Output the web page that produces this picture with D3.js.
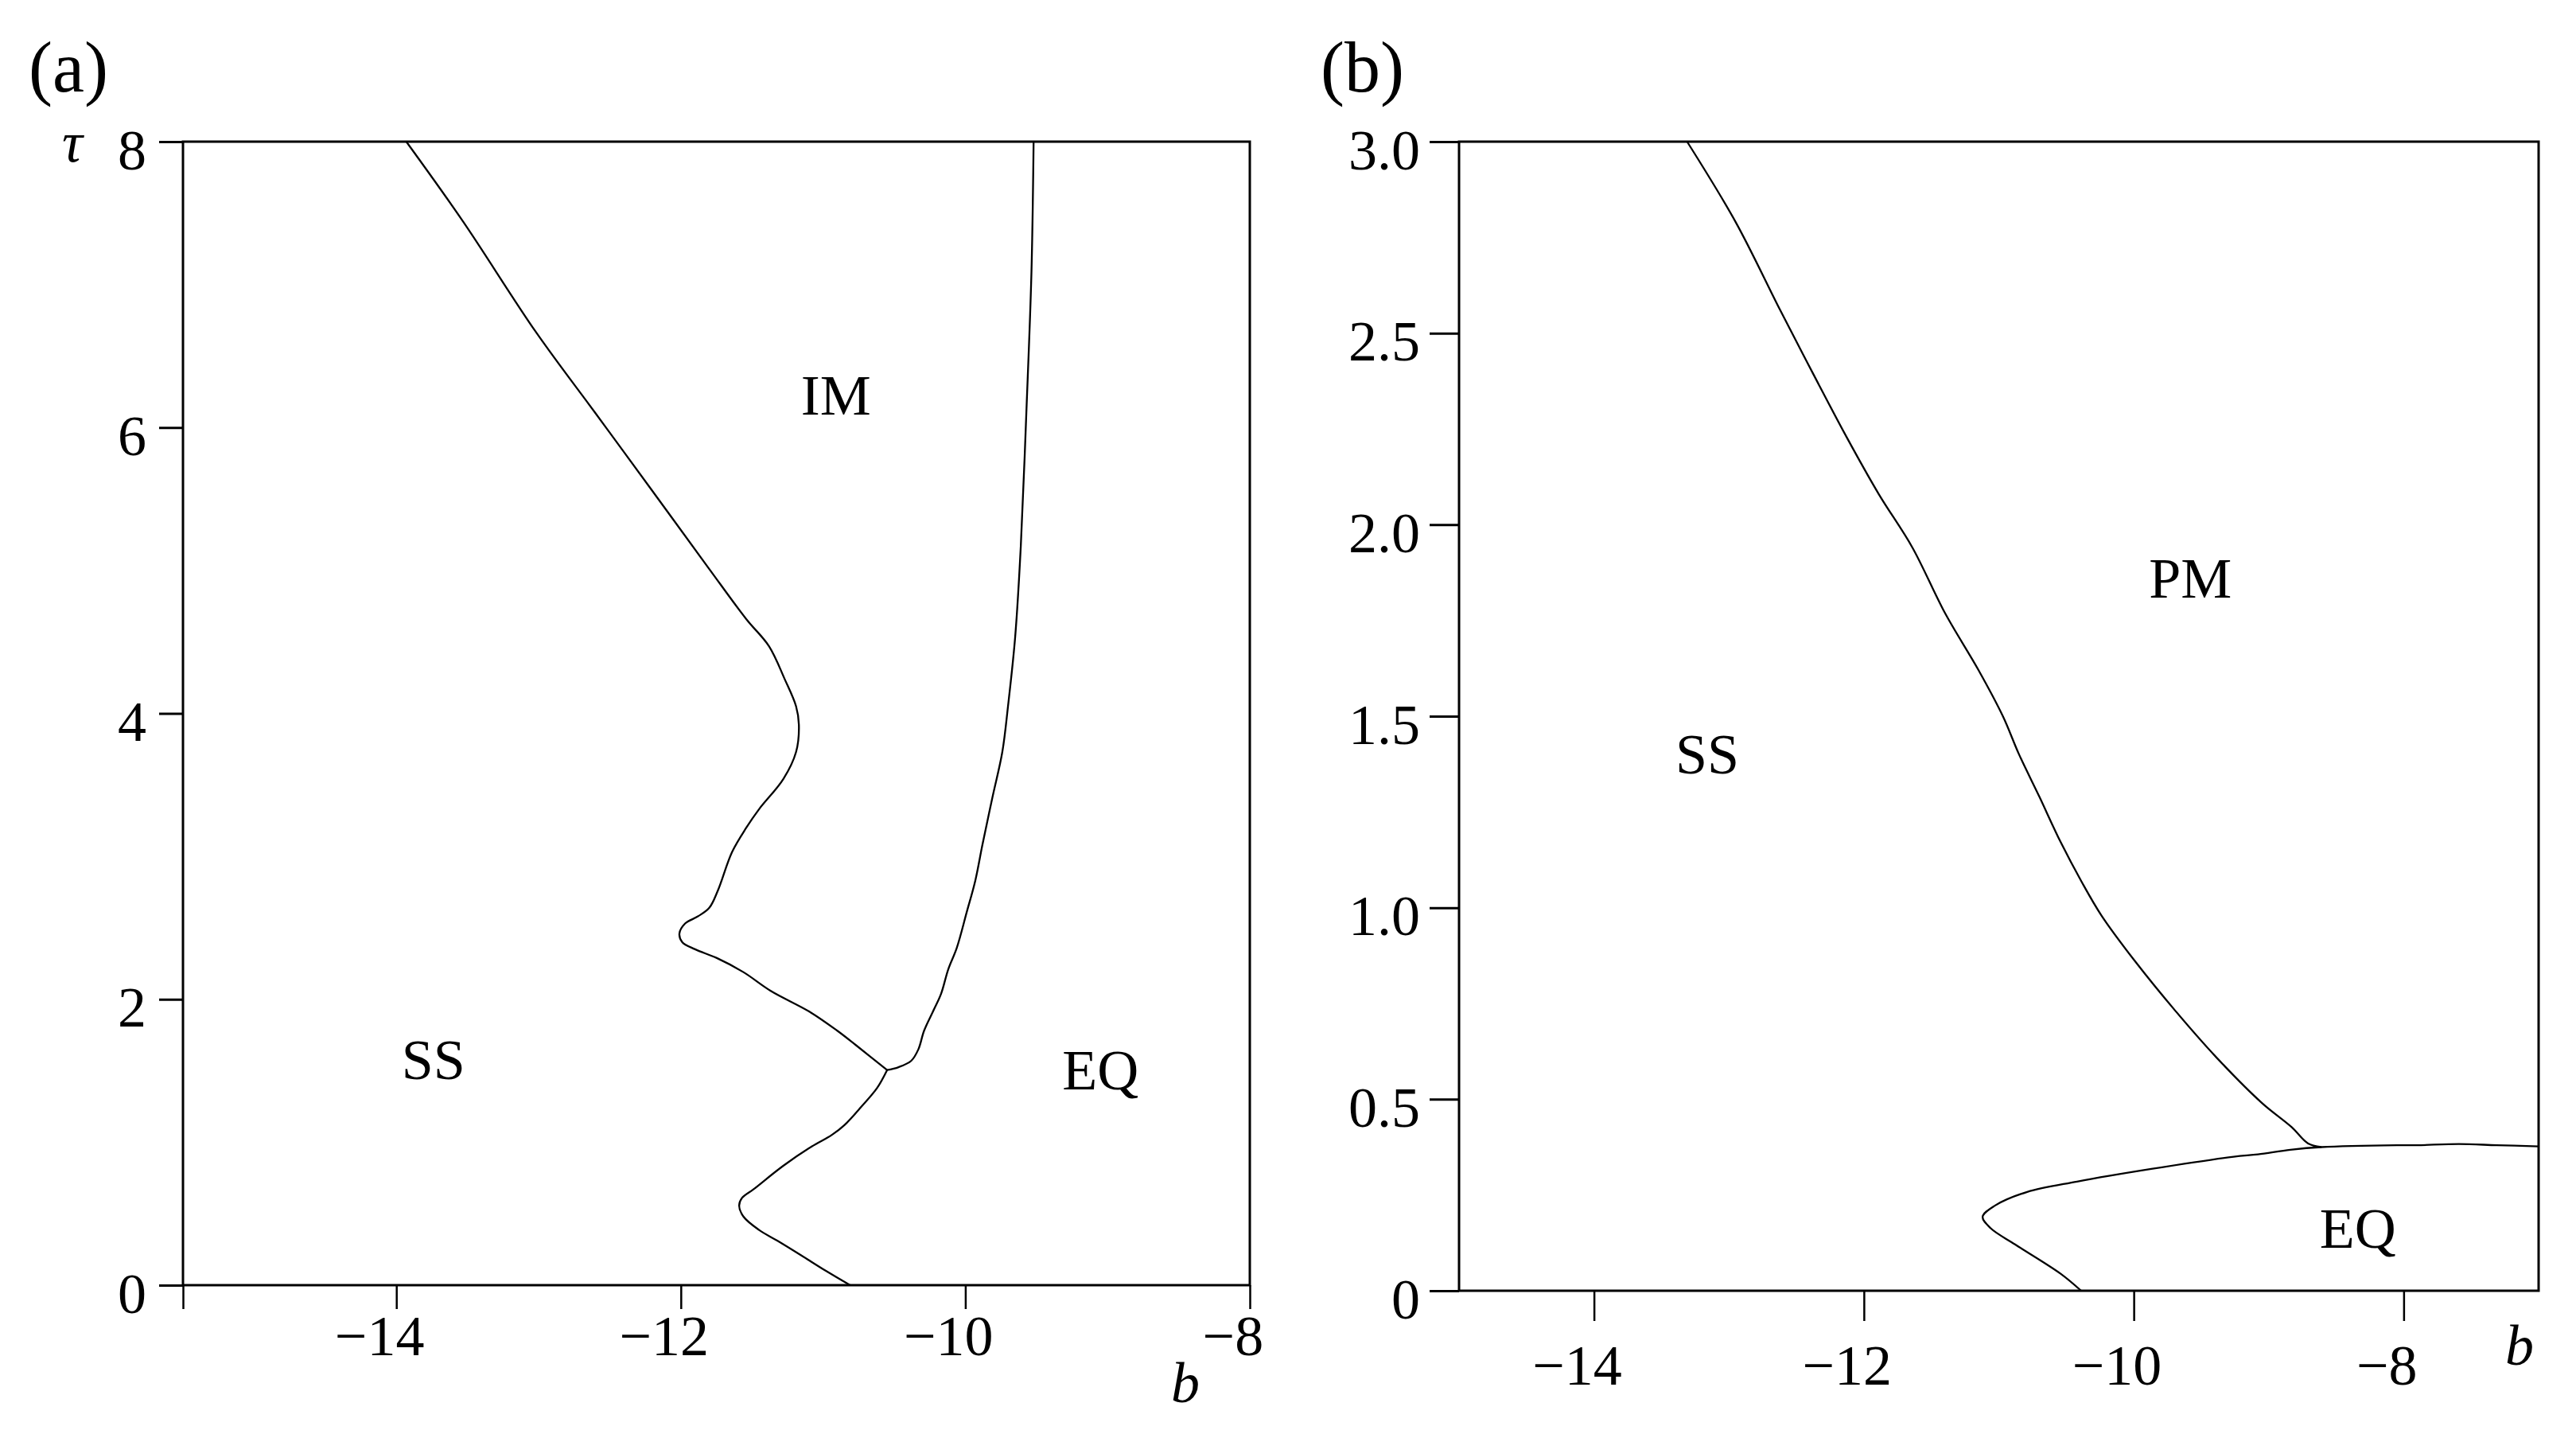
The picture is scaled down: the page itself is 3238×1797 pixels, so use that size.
<html>
<head>
<script src="https://d3js.org/d3.v7.min.js"></script>
<style>
  body {margin: 0; background: #fff;}
  text {font-family: "Liberation Serif", "Times New Roman", serif; fill: #000;}
</style>
</head>
<body>
<script>
// panel (a): boundaries as [b, tau]
var aSsIm = [[-13.93,8.0],[-13.53,7.44],[-13.02,6.67],[-12.60,6.10],[-12.21,5.57],[-11.80,5.01],
  [-11.54,4.66],[-11.38,4.47],[-11.27,4.24],[-11.19,4.05],[-11.17,3.92],[-11.19,3.73],[-11.28,3.54],
  [-11.45,3.33],[-11.54,3.20],[-11.64,3.03],[-11.74,2.76],[-11.80,2.64],[-11.88,2.58],[-11.97,2.53],
  [-12.01,2.46],[-11.99,2.40],[-11.90,2.35],[-11.75,2.29],[-11.56,2.19],[-11.37,2.06],[-11.09,1.91],
  [-10.90,1.78],[-10.77,1.68],[-10.55,1.505]]
var aSsEq = [[-10.55,1.505],[-10.62,1.38],[-10.73,1.25],[-10.85,1.12],[-10.94,1.05],[-11.08,0.97],
  [-11.28,0.835],[-11.49,0.67],[-11.57,0.61],[-11.59,0.557],[-11.56,0.48],[-11.45,0.386],[-11.32,0.31],
  [-11.15,0.206],[-10.98,0.10],[-10.81,0.0]]
var aImEq = [[-9.52,8.0],[-9.535,7.09],[-9.57,6.13],[-9.61,5.17],[-9.65,4.53],[-9.70,4.05],[-9.74,3.73],
  [-9.81,3.41],[-9.88,3.08],[-9.93,2.83],[-9.99,2.61],[-10.06,2.36],[-10.12,2.21],[-10.17,2.04],
  [-10.22,1.93],[-10.29,1.78],[-10.33,1.65],[-10.38,1.57],[-10.47,1.525],[-10.55,1.505]]

// panel (b)
var bSsPm = [[-13.31,3.0],[-12.95,2.79],[-12.62,2.56],[-12.37,2.39],[-12.13,2.23],[-11.89,2.08],
  [-11.64,1.94],[-11.40,1.77],[-11.15,1.62],[-10.97,1.50],[-10.85,1.40],[-10.70,1.29],[-10.54,1.17],
  [-10.39,1.07],[-10.24,0.98],[-9.99,0.86],[-9.69,0.73],[-9.39,0.61],[-9.05,0.49],[-8.83,0.427],
  [-8.71,0.385],[-8.61,0.375]]
var bEq = [[-7.0,0.377],[-7.31,0.38],[-7.59,0.383],[-7.90,0.38],[-8.05,0.380],[-8.61,0.375],
  [-8.84,0.368],[-9.08,0.356],[-9.26,0.35],[-9.87,0.318],[-10.42,0.285],[-10.79,0.258],[-11.03,0.222],
  [-11.12,0.193],[-11.06,0.163],[-10.88,0.121],[-10.54,0.044],[-10.39,0.0]]

var aXTicks = [-15.5, -14, -12, -10, -8]
var aYTicks = [0, 2, 4, 6, 8]
var bXTicks = [-14, -12, -10, -8]
var bYTicks = [0, 0.5, 1.0, 1.5, 2.0, 2.5, 3.0]

var aLabels = [{t:"IM", b:-10.91, tau:6.09}, {t:"SS", b:-13.74, tau:1.44}, {t:"EQ", b:-9.05, tau:1.37}]
var bLabels = [{t:"PM", b:-9.58, tau:1.81}, {t:"SS", b:-13.16, tau:1.35}, {t:"EQ", b:-8.34, tau:0.112}]

var W = 3238, H = 1797
var svg = d3.select("body").append("svg").attr("width", W).attr("height", H)
svg.append("rect").attr("width", W).attr("height", H).attr("fill", "#fff")

function minus(v) { return String(v).replace("-", "\u2212") }

function panel(o) {
  var x = d3.scaleLinear().domain(o.xDom).range([o.left, o.right])
  var y = d3.scaleLinear().domain(o.yDom).range([o.bottom, o.top])
  var g = svg.append("g")

  // y axis
  var ya = g.append("g").attr("transform", "translate(" + o.left + ",0)")
    .call(d3.axisLeft(y).tickValues(o.yTicks).tickSize(o.yTick).tickFormat(o.yFmt))
  ya.select(".domain").remove()
  ya.selectAll("line").attr("stroke", "#000").attr("stroke-width", 3)
  ya.selectAll("text").attr("x", -o.yLabGap).attr("dy", null).attr("y", 34)
    .style("font-size", "72px").style("font-family", "Liberation Serif")

  // x axis
  var xa = g.append("g").attr("transform", "translate(0," + o.bottom + ")")
    .call(d3.axisBottom(x).tickValues(o.xTicks).tickSize(o.xTick)
      .tickFormat(function(d) { return d === -15.5 ? "" : minus(d) }))
  xa.select(".domain").remove()
  xa.selectAll("line").attr("stroke", "#000").attr("stroke-width", 2.5)
  xa.selectAll("text").attr("dy", null).attr("y", o.xLabY).attr("dx", "-0.3em")
    .style("font-size", "72px").style("font-family", "Liberation Serif")

  // frame
  g.append("rect").attr("x", o.left).attr("y", o.top)
    .attr("width", o.right - o.left).attr("height", o.bottom - o.top)
    .attr("fill", "none").attr("stroke", "#000").attr("stroke-width", 3)

  var line = d3.line().x(function(d) { return x(d[0]) }).y(function(d) { return y(d[1]) })
    .curve(d3.curveCatmullRom.alpha(0.5))
  g.selectAll("path.curve").data(o.curves).enter().append("path").attr("class", "curve")
    .attr("d", line).attr("fill", "none").attr("stroke", "#000").attr("stroke-width", 2.3)

  g.selectAll("text.region").data(o.labels).enter().append("text").attr("class", "region")
    .attr("x", function(d) { return x(d.b) }).attr("y", function(d) { return y(d.tau) })
    .attr("text-anchor", "middle").style("font-size", "72px").text(function(d) { return d.t })

  g.append("text").attr("x", o.panelX).attr("y", 115).style("font-size", "90px").text(o.name)
  g.append("text").attr("x", o.bX).attr("y", o.bY).attr("text-anchor", "middle")
    .style("font-size", "72px").style("font-style", "italic").text("b")
  return g
}

var ga = panel({
  xDom: [-15.5, -8], yDom: [0, 8], left: 230, right: 1571, top: 178, bottom: 1615,
  xTicks: aXTicks, yTicks: aYTicks, yTick: 30, xTick: 30, yLabGap: 46, xLabY: 88,
  yFmt: function(d) { return d }, curves: [aSsIm, aSsEq, aImEq], labels: aLabels,
  panelX: 36, name: "(a)", bX: 1490, bY: 1762
})
ga.append("text").attr("x", 91).attr("y", 203).attr("text-anchor", "middle")
  .style("font-size", "72px").style("font-style", "italic").text("\u03c4")

panel({
  xDom: [-15, -7], yDom: [0, 3], left: 1834, right: 3191, top: 178, bottom: 1622,
  xTicks: bXTicks, yTicks: bYTicks, yTick: 37, xTick: 38, yLabGap: 49, xLabY: 118,
  yFmt: function(d) { return d === 0 ? "0" : d3.format(".1f")(d) }, curves: [bSsPm, bEq], labels: bLabels,
  panelX: 1660, name: "(b)", bX: 3167, bY: 1715
})
</script>
</body>
</html>
